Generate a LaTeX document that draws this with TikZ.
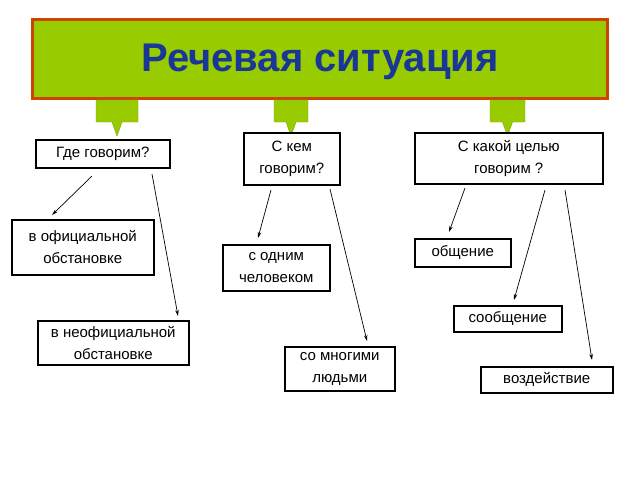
\documentclass[tikz,border=0pt]{standalone}
\usepackage{fontspec}
\setmainfont{Liberation Sans}
\usetikzlibrary{arrows.meta}
\definecolor{lime}{RGB}{153,204,0}
\definecolor{brd}{RGB}{204,68,0}
\definecolor{ttl}{RGB}{25,55,150}
\begin{document}
\begin{tikzpicture}[x=1pt,y=-1pt,
  bx/.style={draw=black,line width=1.5pt,fill=white,align=center,font=\fontsize{15}{22}\selectfont,inner sep=0pt},
  ar/.style={-{Stealth[length=6pt,width=3.5pt]},line width=0.7pt},
  cl/.style={fill=lime,draw=lime!80!black,line width=0.4pt}]
\useasboundingbox (0,0) rectangle (640,480);
\node[draw=brd,line width=3pt,fill=lime,minimum width=575pt,minimum height=79pt,anchor=north west] (title) at (31,18) {};
\node[font=\bfseries\fontsize{40}{40}\selectfont,text=ttl] (tt) at (320,62) {Речевая ситуация};
\foreach \a/\b in {96/138,274/308,490/525}{
  \path[cl] (\a,100) -- (\b,100) -- (\b,122) -- ({(\a+\b)/2+5},122) -- ({(\a+\b)/2},136) -- ({(\a+\b)/2-5},122) -- (\a,122) -- cycle;}
\node[bx,minimum width=134pt,minimum height=28pt,anchor=north west] (q1) at (35,139) {Где говорим?};
\node[bx,minimum width=96pt,minimum height=52pt,anchor=north west] (q2) at (243,132) {С кем\\говорим?};
\node[bx,minimum width=188pt,minimum height=51pt,anchor=north west] (q3) at (414,132) {С какой целью\\говорим ?};
\node[bx,minimum width=142pt,minimum height=55pt,anchor=north west] (a1) at (11,219) {в официальной\\обстановке};
\node[bx,minimum width=151pt,minimum height=44pt,anchor=north west] (a2) at (37,320) {в неофициальной\\обстановке};
\node[bx,minimum width=107pt,minimum height=46pt,anchor=north west] (b1) at (222,244) {с одним\\человеком};
\node[bx,minimum width=110pt,minimum height=44pt,anchor=north west] (b2) at (284,346) {со многими\\людьми};
\node[bx,minimum width=96pt,minimum height=28pt,anchor=north west] (c1) at (414,238) {общение};
\node[bx,minimum width=108pt,minimum height=26pt,anchor=north west] (c2) at (453,305) {сообщение};
\node[bx,minimum width=132pt,minimum height=26pt,anchor=north west] (c3) at (480,366) {воздействие};
\coordinate (s1) at (92,176); \coordinate (e1) at (52,215);
\coordinate (s2) at (152,174); \coordinate (e2) at (178,316);
\coordinate (s3) at (271,190); \coordinate (e3) at (258,238);
\coordinate (s4) at (330,189); \coordinate (e4) at (367,341);
\coordinate (s5) at (465,188); \coordinate (e5) at (449,232);
\coordinate (s6) at (545,190); \coordinate (e6) at (514,300);
\coordinate (s7) at (565,190); \coordinate (e7) at (592,360);
\foreach \i in {1,...,7}{\draw[ar] (s\i) -- (e\i);}
\end{tikzpicture}
\end{document}
